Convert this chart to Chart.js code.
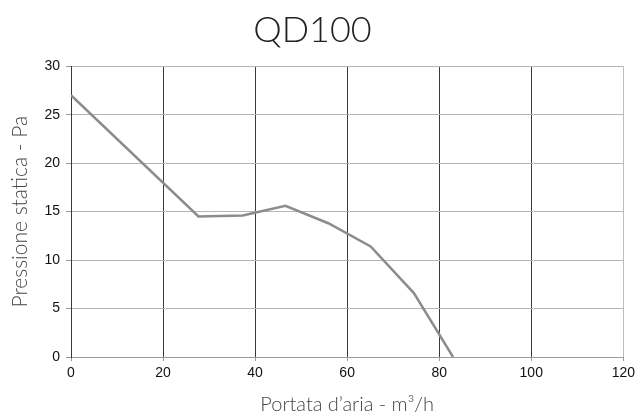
<!DOCTYPE html>
<html>
<head>
<meta charset="utf-8">
<script src="https://cdn.jsdelivr.net/npm/chart.js@4/dist/chart.umd.min.js"></script>
<style>
  html, body { margin: 0; padding: 0; background: #fff; }
  #wrap { width: 639px; height: 417px; }
</style>
</head>
<body>
<div id="wrap"><canvas id="chart" width="639" height="417"></canvas></div>
<script>
// Curve
const flowValues     = [0, 27.7, 37.3, 46.6, 55.9, 65.1, 74.5, 83.0];
const pressureValues = [27, 14.5, 14.6, 15.6, 13.8, 11.4, 6.6, 0];

const xTicks = [0, 20, 40, 60, 80, 100, 120];
const yTicks = [0, 5, 10, 15, 20, 25, 30];

const points = flowValues.map((x, i) => ({ x: x, y: pressureValues[i] }));

const ctx = document.getElementById("chart").getContext("2d");
new Chart(ctx, {
  type: "line",
  data: {
    datasets: [{
      data: points,
      borderColor: "#8c8c8c",
      borderWidth: 2.5,
      pointRadius: 0,
      tension: 0,
      fill: false
    }]
  },
  options: {
    responsive: false,
    animation: false,
    layout: { padding: { left: 0, right: 14, top: 0, bottom: 0 } },
    plugins: {
      legend: { display: false },
      tooltip: { enabled: false },
      title: {
        display: true,
        text: "QD100",
        color: "#222",
        font: { family: "Lato, 'Noto Sans', sans-serif", size: 36, weight: 300 },
        padding: { top: 9, bottom: 14 }
      }
    },
    scales: {
      x: {
        type: "linear",
        min: 0,
        max: 120,
        afterBuildTicks: s => { s.ticks = xTicks.map(v => ({ value: v })); },
        afterFit: s => { s.height = 60; },
        grid: {
          color: c => (c.tick && c.tick.value === 120) ? "#bdbdbd" : "#3a3a3a",
          tickColor: "#999",
          tickLength: 4,
          lineWidth: 1
        },
        border: { color: "#9a9a9a" },
        ticks: {
          color: "#111",
          font: { family: "'Liberation Sans', Arial, sans-serif", size: 14 },
          padding: 4
        },
        title: {
          display: true,
          text: "Portata d\u2019aria - m\u00b3/h",
          color: "#444",
          font: { family: "Lato, 'Noto Sans', sans-serif", size: 20, weight: 300 },
          padding: { top: 6, bottom: 0 }
        }
      },
      y: {
        min: 0,
        max: 30,
        afterBuildTicks: s => { s.ticks = yTicks.map(v => ({ value: v })); },
        afterFit: s => { s.width = 71; },
        grid: {
          color: "#b5b5b5",
          tickColor: "#999",
          tickLength: 5,
          lineWidth: 1
        },
        border: { color: "#3a3a3a" },
        ticks: {
          color: "#111",
          font: { family: "'Liberation Sans', Arial, sans-serif", size: 14 },
          padding: 6
        },
        title: {
          display: true,
          text: "Pressione statica - Pa",
          color: "#444",
          font: { family: "Lato, 'Noto Sans', sans-serif", size: 21, weight: 300 },
          padding: { top: 8, bottom: 4 }
        }
      }
    }
  }
});
</script>
</body>
</html>
